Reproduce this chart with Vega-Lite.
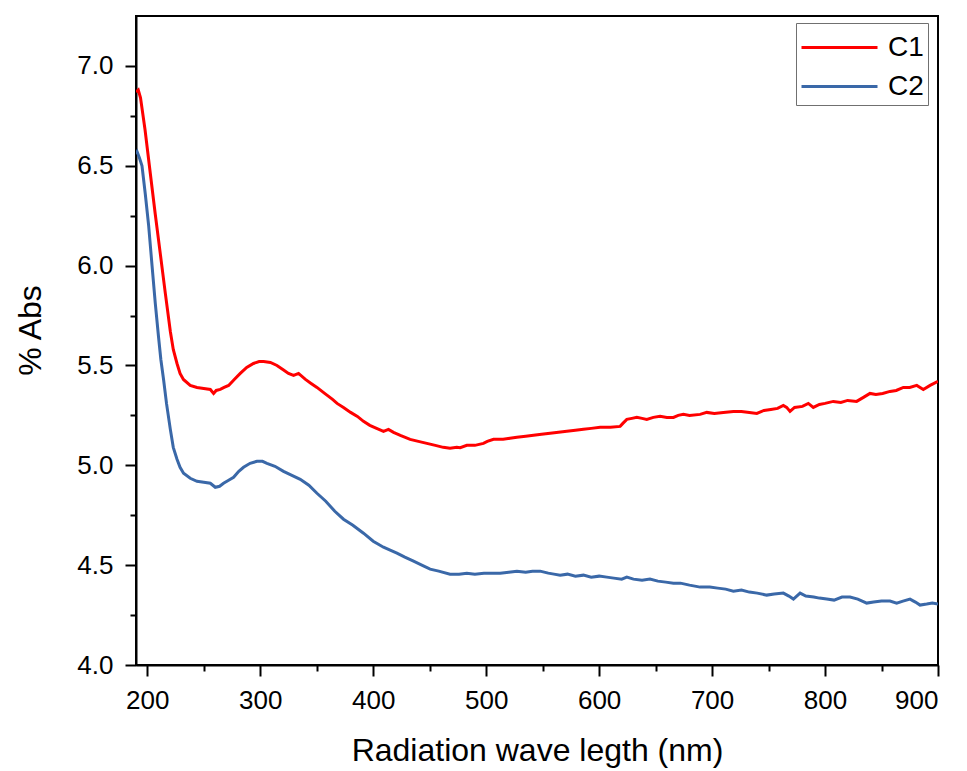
{
  "$schema": "https://vega.github.io/schema/vega-lite/v6.json",
  "width": 802,
  "height": 649,
  "autosize": {"type": "none"},
  "padding": {"left": 136, "top": 16, "right": 29, "bottom": 106},
  "background": "white",
  "config": {
    "font": "Liberation Sans",
    "view": {"stroke": "black", "strokeWidth": 2},
    "axis": {
      "domainColor": "black", "domainWidth": 2, "tickColor": "black", "tickWidth": 2,
      "labelColor": "black", "titleColor": "black", "grid": false,
      "labelFont": "Liberation Sans", "titleFont": "Liberation Sans",
      "labelFontSize": 26, "titleFontSize": 32, "titleFontWeight": "normal"
    }
  },
  "datasets": {
    "spectra": [
      {"nm": 190, "v": 6.87, "s": "C1"}, {"nm": 192, "v": 6.88, "s": "C1"}, {"nm": 194, "v": 6.84, "s": "C1"}, {"nm": 198, "v": 6.68, "s": "C1"}, {"nm": 202.7, "v": 6.46, "s": "C1"}, {"nm": 207, "v": 6.26, "s": "C1"}, {"nm": 211.5, "v": 6.06, "s": "C1"}, {"nm": 216, "v": 5.86, "s": "C1"}, {"nm": 220.4, "v": 5.67, "s": "C1"}, {"nm": 223, "v": 5.58, "s": "C1"}, {"nm": 226.3, "v": 5.51, "s": "C1"}, {"nm": 229, "v": 5.46, "s": "C1"}, {"nm": 232, "v": 5.43, "s": "C1"}, {"nm": 238, "v": 5.4, "s": "C1"}, {"nm": 244, "v": 5.39, "s": "C1"}, {"nm": 250, "v": 5.385, "s": "C1"}, {"nm": 255.8, "v": 5.38, "s": "C1"}, {"nm": 258.7, "v": 5.36, "s": "C1"}, {"nm": 261, "v": 5.375, "s": "C1"}, {"nm": 264.6, "v": 5.38, "s": "C1"}, {"nm": 268, "v": 5.39, "s": "C1"}, {"nm": 272, "v": 5.4, "s": "C1"}, {"nm": 277, "v": 5.43, "s": "C1"}, {"nm": 282.3, "v": 5.46, "s": "C1"}, {"nm": 288, "v": 5.49, "s": "C1"}, {"nm": 294, "v": 5.51, "s": "C1"}, {"nm": 299, "v": 5.52, "s": "C1"}, {"nm": 303, "v": 5.52, "s": "C1"}, {"nm": 309, "v": 5.515, "s": "C1"}, {"nm": 314.8, "v": 5.5, "s": "C1"}, {"nm": 320, "v": 5.48, "s": "C1"}, {"nm": 325, "v": 5.46, "s": "C1"}, {"nm": 329.5, "v": 5.45, "s": "C1"}, {"nm": 333.9, "v": 5.46, "s": "C1"}, {"nm": 340, "v": 5.43, "s": "C1"}, {"nm": 345, "v": 5.41, "s": "C1"}, {"nm": 350.2, "v": 5.39, "s": "C1"}, {"nm": 357, "v": 5.36, "s": "C1"}, {"nm": 364, "v": 5.33, "s": "C1"}, {"nm": 368, "v": 5.31, "s": "C1"}, {"nm": 373.7, "v": 5.29, "s": "C1"}, {"nm": 380, "v": 5.265, "s": "C1"}, {"nm": 386, "v": 5.245, "s": "C1"}, {"nm": 391.4, "v": 5.22, "s": "C1"}, {"nm": 397, "v": 5.2, "s": "C1"}, {"nm": 403, "v": 5.185, "s": "C1"}, {"nm": 409.1, "v": 5.17, "s": "C1"}, {"nm": 413.5, "v": 5.18, "s": "C1"}, {"nm": 418, "v": 5.165, "s": "C1"}, {"nm": 424, "v": 5.15, "s": "C1"}, {"nm": 432.7, "v": 5.13, "s": "C1"}, {"nm": 440, "v": 5.12, "s": "C1"}, {"nm": 447.5, "v": 5.11, "s": "C1"}, {"nm": 455, "v": 5.1, "s": "C1"}, {"nm": 462, "v": 5.09, "s": "C1"}, {"nm": 468, "v": 5.085, "s": "C1"}, {"nm": 474, "v": 5.09, "s": "C1"}, {"nm": 477, "v": 5.088, "s": "C1"}, {"nm": 482.9, "v": 5.1, "s": "C1"}, {"nm": 490, "v": 5.1, "s": "C1"}, {"nm": 497.6, "v": 5.11, "s": "C1"}, {"nm": 501, "v": 5.12, "s": "C1"}, {"nm": 506.5, "v": 5.13, "s": "C1"}, {"nm": 515, "v": 5.13, "s": "C1"}, {"nm": 521, "v": 5.135, "s": "C1"}, {"nm": 527.2, "v": 5.14, "s": "C1"}, {"nm": 535, "v": 5.145, "s": "C1"}, {"nm": 541.9, "v": 5.15, "s": "C1"}, {"nm": 549, "v": 5.155, "s": "C1"}, {"nm": 556.6, "v": 5.16, "s": "C1"}, {"nm": 564, "v": 5.165, "s": "C1"}, {"nm": 571.4, "v": 5.17, "s": "C1"}, {"nm": 579, "v": 5.175, "s": "C1"}, {"nm": 586.1, "v": 5.18, "s": "C1"}, {"nm": 593, "v": 5.185, "s": "C1"}, {"nm": 600.9, "v": 5.19, "s": "C1"}, {"nm": 610, "v": 5.19, "s": "C1"}, {"nm": 618.6, "v": 5.195, "s": "C1"}, {"nm": 621, "v": 5.21, "s": "C1"}, {"nm": 624.5, "v": 5.23, "s": "C1"}, {"nm": 629, "v": 5.235, "s": "C1"}, {"nm": 633.4, "v": 5.24, "s": "C1"}, {"nm": 638, "v": 5.235, "s": "C1"}, {"nm": 642.2, "v": 5.23, "s": "C1"}, {"nm": 648, "v": 5.24, "s": "C1"}, {"nm": 654, "v": 5.245, "s": "C1"}, {"nm": 660, "v": 5.24, "s": "C1"}, {"nm": 665.8, "v": 5.24, "s": "C1"}, {"nm": 670, "v": 5.25, "s": "C1"}, {"nm": 674.6, "v": 5.255, "s": "C1"}, {"nm": 680, "v": 5.25, "s": "C1"}, {"nm": 689.4, "v": 5.255, "s": "C1"}, {"nm": 695.3, "v": 5.265, "s": "C1"}, {"nm": 702, "v": 5.26, "s": "C1"}, {"nm": 710, "v": 5.265, "s": "C1"}, {"nm": 718.9, "v": 5.27, "s": "C1"}, {"nm": 726, "v": 5.27, "s": "C1"}, {"nm": 733, "v": 5.265, "s": "C1"}, {"nm": 739.6, "v": 5.26, "s": "C1"}, {"nm": 746, "v": 5.275, "s": "C1"}, {"nm": 752, "v": 5.28, "s": "C1"}, {"nm": 758, "v": 5.285, "s": "C1"}, {"nm": 763.1, "v": 5.3, "s": "C1"}, {"nm": 766, "v": 5.29, "s": "C1"}, {"nm": 769, "v": 5.27, "s": "C1"}, {"nm": 773, "v": 5.29, "s": "C1"}, {"nm": 780, "v": 5.295, "s": "C1"}, {"nm": 785.2, "v": 5.31, "s": "C1"}, {"nm": 789.6, "v": 5.29, "s": "C1"}, {"nm": 795, "v": 5.305, "s": "C1"}, {"nm": 800, "v": 5.31, "s": "C1"}, {"nm": 807.3, "v": 5.32, "s": "C1"}, {"nm": 814, "v": 5.315, "s": "C1"}, {"nm": 820, "v": 5.325, "s": "C1"}, {"nm": 828, "v": 5.32, "s": "C1"}, {"nm": 834, "v": 5.34, "s": "C1"}, {"nm": 839.8, "v": 5.36, "s": "C1"}, {"nm": 845, "v": 5.355, "s": "C1"}, {"nm": 851, "v": 5.36, "s": "C1"}, {"nm": 857.5, "v": 5.37, "s": "C1"}, {"nm": 863, "v": 5.375, "s": "C1"}, {"nm": 869.3, "v": 5.39, "s": "C1"}, {"nm": 875, "v": 5.39, "s": "C1"}, {"nm": 881.2, "v": 5.4, "s": "C1"}, {"nm": 887, "v": 5.38, "s": "C1"}, {"nm": 893, "v": 5.4, "s": "C1"}, {"nm": 900, "v": 5.42, "s": "C1"},
      {"nm": 190, "v": 6.56, "s": "C2"}, {"nm": 191, "v": 6.57, "s": "C2"}, {"nm": 193, "v": 6.54, "s": "C2"}, {"nm": 195.3, "v": 6.5, "s": "C2"}, {"nm": 198.2, "v": 6.36, "s": "C2"}, {"nm": 201.2, "v": 6.2, "s": "C2"}, {"nm": 204.2, "v": 6.0, "s": "C2"}, {"nm": 207.1, "v": 5.81, "s": "C2"}, {"nm": 210, "v": 5.64, "s": "C2"}, {"nm": 212, "v": 5.53, "s": "C2"}, {"nm": 214.4, "v": 5.43, "s": "C2"}, {"nm": 217, "v": 5.31, "s": "C2"}, {"nm": 220.4, "v": 5.18, "s": "C2"}, {"nm": 223, "v": 5.09, "s": "C2"}, {"nm": 226.3, "v": 5.03, "s": "C2"}, {"nm": 229, "v": 4.99, "s": "C2"}, {"nm": 232.1, "v": 4.96, "s": "C2"}, {"nm": 238, "v": 4.935, "s": "C2"}, {"nm": 244, "v": 4.92, "s": "C2"}, {"nm": 250, "v": 4.915, "s": "C2"}, {"nm": 255.8, "v": 4.91, "s": "C2"}, {"nm": 260.2, "v": 4.89, "s": "C2"}, {"nm": 264, "v": 4.895, "s": "C2"}, {"nm": 267.5, "v": 4.91, "s": "C2"}, {"nm": 272, "v": 4.925, "s": "C2"}, {"nm": 276.4, "v": 4.94, "s": "C2"}, {"nm": 281, "v": 4.97, "s": "C2"}, {"nm": 285.2, "v": 4.99, "s": "C2"}, {"nm": 291, "v": 5.01, "s": "C2"}, {"nm": 297.1, "v": 5.02, "s": "C2"}, {"nm": 302, "v": 5.02, "s": "C2"}, {"nm": 305.9, "v": 5.01, "s": "C2"}, {"nm": 313, "v": 4.995, "s": "C2"}, {"nm": 320.6, "v": 4.97, "s": "C2"}, {"nm": 328, "v": 4.95, "s": "C2"}, {"nm": 335.4, "v": 4.93, "s": "C2"}, {"nm": 343, "v": 4.9, "s": "C2"}, {"nm": 350.2, "v": 4.86, "s": "C2"}, {"nm": 358, "v": 4.82, "s": "C2"}, {"nm": 366, "v": 4.77, "s": "C2"}, {"nm": 373.7, "v": 4.73, "s": "C2"}, {"nm": 382, "v": 4.7, "s": "C2"}, {"nm": 391.4, "v": 4.66, "s": "C2"}, {"nm": 400, "v": 4.62, "s": "C2"}, {"nm": 409.1, "v": 4.59, "s": "C2"}, {"nm": 415, "v": 4.575, "s": "C2"}, {"nm": 421, "v": 4.56, "s": "C2"}, {"nm": 428, "v": 4.54, "s": "C2"}, {"nm": 435.7, "v": 4.52, "s": "C2"}, {"nm": 443, "v": 4.5, "s": "C2"}, {"nm": 450.4, "v": 4.48, "s": "C2"}, {"nm": 458, "v": 4.47, "s": "C2"}, {"nm": 468, "v": 4.455, "s": "C2"}, {"nm": 476, "v": 4.455, "s": "C2"}, {"nm": 482.9, "v": 4.46, "s": "C2"}, {"nm": 490, "v": 4.455, "s": "C2"}, {"nm": 498, "v": 4.46, "s": "C2"}, {"nm": 505, "v": 4.46, "s": "C2"}, {"nm": 512.4, "v": 4.46, "s": "C2"}, {"nm": 520, "v": 4.465, "s": "C2"}, {"nm": 527.2, "v": 4.47, "s": "C2"}, {"nm": 535, "v": 4.465, "s": "C2"}, {"nm": 541, "v": 4.47, "s": "C2"}, {"nm": 547.8, "v": 4.47, "s": "C2"}, {"nm": 555, "v": 4.46, "s": "C2"}, {"nm": 560, "v": 4.455, "s": "C2"}, {"nm": 565.5, "v": 4.45, "s": "C2"}, {"nm": 572, "v": 4.455, "s": "C2"}, {"nm": 579, "v": 4.445, "s": "C2"}, {"nm": 586.1, "v": 4.45, "s": "C2"}, {"nm": 593, "v": 4.44, "s": "C2"}, {"nm": 600, "v": 4.445, "s": "C2"}, {"nm": 606.8, "v": 4.44, "s": "C2"}, {"nm": 613, "v": 4.435, "s": "C2"}, {"nm": 620, "v": 4.43, "s": "C2"}, {"nm": 624.5, "v": 4.44, "s": "C2"}, {"nm": 630.4, "v": 4.43, "s": "C2"}, {"nm": 638, "v": 4.425, "s": "C2"}, {"nm": 645, "v": 4.43, "s": "C2"}, {"nm": 652, "v": 4.42, "s": "C2"}, {"nm": 659, "v": 4.415, "s": "C2"}, {"nm": 665.8, "v": 4.41, "s": "C2"}, {"nm": 672, "v": 4.41, "s": "C2"}, {"nm": 680, "v": 4.4, "s": "C2"}, {"nm": 689.4, "v": 4.39, "s": "C2"}, {"nm": 698, "v": 4.39, "s": "C2"}, {"nm": 705, "v": 4.385, "s": "C2"}, {"nm": 712, "v": 4.38, "s": "C2"}, {"nm": 718.9, "v": 4.37, "s": "C2"}, {"nm": 726, "v": 4.375, "s": "C2"}, {"nm": 733, "v": 4.365, "s": "C2"}, {"nm": 740, "v": 4.36, "s": "C2"}, {"nm": 748.4, "v": 4.35, "s": "C2"}, {"nm": 755, "v": 4.355, "s": "C2"}, {"nm": 763.1, "v": 4.36, "s": "C2"}, {"nm": 768, "v": 4.345, "s": "C2"}, {"nm": 772, "v": 4.33, "s": "C2"}, {"nm": 777.9, "v": 4.36, "s": "C2"}, {"nm": 783, "v": 4.345, "s": "C2"}, {"nm": 790, "v": 4.34, "s": "C2"}, {"nm": 795, "v": 4.335, "s": "C2"}, {"nm": 801.5, "v": 4.33, "s": "C2"}, {"nm": 808, "v": 4.325, "s": "C2"}, {"nm": 815, "v": 4.34, "s": "C2"}, {"nm": 822.1, "v": 4.34, "s": "C2"}, {"nm": 829, "v": 4.33, "s": "C2"}, {"nm": 836.9, "v": 4.31, "s": "C2"}, {"nm": 843, "v": 4.315, "s": "C2"}, {"nm": 850, "v": 4.32, "s": "C2"}, {"nm": 857.5, "v": 4.32, "s": "C2"}, {"nm": 863.4, "v": 4.31, "s": "C2"}, {"nm": 869, "v": 4.32, "s": "C2"}, {"nm": 875.2, "v": 4.33, "s": "C2"}, {"nm": 880, "v": 4.315, "s": "C2"}, {"nm": 884.1, "v": 4.3, "s": "C2"}, {"nm": 890, "v": 4.305, "s": "C2"}, {"nm": 895, "v": 4.31, "s": "C2"}, {"nm": 900, "v": 4.305, "s": "C2"}
    ]
  },
  "data": {"name": "spectra"},
  "layer": [
    {
      "mark": {"type": "line", "opacity": 0},
      "encoding": {
        "x": {
          "field": "nm", "type": "quantitative",
          "scale": {"domain": [190, 900], "nice": false, "zero": false},
          "axis": {
            "orient": "bottom", "title": null, "labels": false, "domain": false, "tickSize": 6,
            "values": [250, 350, 450, 550, 650, 750, 850]
          }
        },
        "y": {
          "field": "v", "type": "quantitative",
          "scale": {"domain": [4, 7.25], "nice": false, "zero": false},
          "axis": {
            "orient": "left", "title": null, "labels": false, "domain": false, "tickSize": 6,
            "values": [4.25, 4.75, 5.25, 5.75, 6.25, 6.75]
          }
        }
      }
    },
    {
      "mark": {"type": "line", "strokeWidth": 3, "clip": true},
      "encoding": {
        "x": {
          "field": "nm", "type": "quantitative",
          "scale": {"domain": [190, 900], "nice": false, "zero": false},
          "axis": {
            "orient": "bottom",
            "title": "Radiation wave legth (nm)",
            "values": [200, 300, 400, 500, 600, 700, 800, 900],
            "format": "d",
            "tickSize": 11, "labelPadding": 11,
            "titleBaseline": "alphabetic", "titleY": 95
          }
        },
        "y": {
          "field": "v", "type": "quantitative",
          "scale": {"domain": [4, 7.25], "nice": false, "zero": false},
          "axis": {
            "orient": "left",
            "title": "% Abs",
            "values": [4, 4.5, 5, 5.5, 6, 6.5, 7],
            "format": ".1f",
            "tickSize": 11, "labelPadding": 12,
            "titleBaseline": "alphabetic", "titleX": -96, "titleY": 314
          }
        },
        "color": {
          "field": "s", "type": "nominal",
          "scale": {"domain": ["C1", "C2"], "range": ["#ff0000", "#3a68a8"]},
          "legend": {
            "title": null, "orient": "none", "legendX": 660, "legendY": 7,
            "strokeColor": "#707070", "fillColor": "white", "padding": 4,
            "symbolType": "M-1,0H3", "symbolSize": 1444, "symbolStrokeWidth": 3,
            "labelFontSize": 28, "labelFont": "Liberation Sans", "labelColor": "black",
            "labelOffset": 47, "rowPadding": 4
          }
        }
      }
    }
  ],
  "resolve": {"axis": {"x": "independent", "y": "independent"}}
}
